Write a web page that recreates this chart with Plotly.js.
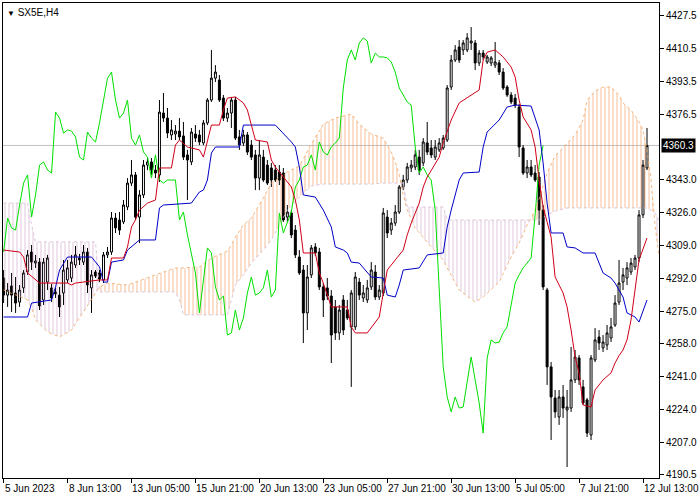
<!DOCTYPE html>
<html>
<head>
<meta charset="utf-8">
<script src="https://cdn.plot.ly/plotly-3.0.1.min.js"></script>
<style>html,body{margin:0;padding:0;background:#fff;}#chart{width:700px;height:500px;}</style>
</head>
<body>
<div id="chart"></div>
<script>
// ---- OHLC data (SX5E, H4), bar index 0..161 ----
const opens = [4292.0,4283.2,4287.9,4284.3,4279.6,4286.9,4295.1,4305.4,4299.7,4300.2,4280.7,4289.9,4286.9,4284.8,4283.2,4284.3,4291.0,4292.0,4298.7,4302.3,4300.2,4305.4,4286.9,4295.1,4294.6,4291.0,4303.9,4305.4,4322.9,4321.9,4320.9,4328.6,4340.9,4345.1,4323.4,4334.8,4350.2,4351.8,4347.6,4345.1,4377.0,4374.4,4365.7,4366.2,4367.7,4365.2,4355.4,4351.8,4366.2,4365.7,4361.6,4371.9,4383.7,4395.0,4394.0,4384.7,4374.4,4377.0,4383.7,4364.7,4361.6,4365.7,4360.5,4355.4,4343.5,4354.3,4350.2,4348.7,4347.6,4346.6,4346.1,4323.4,4325.5,4316.7,4302.8,4296.1,4274.0,4293.6,4308.0,4305.4,4287.4,4286.9,4282.7,4277.1,4263.7,4280.7,4275.5,4266.8,4266.8,4289.9,4281.7,4280.7,4287.4,4295.1,4282.2,4284.3,4323.4,4316.7,4320.3,4326.0,4338.9,4342.5,4348.7,4349.2,4354.3,4351.3,4361.6,4359.0,4354.3,4358.0,4359.0,4363.1,4390.4,4404.3,4411.0,4409.5,4409.5,4413.1,4413.1,4402.8,4407.9,4403.3,4402.8,4401.7,4402.8,4398.1,4390.4,4386.3,4384.7,4380.1,4359.0,4346.1,4349.2,4346.1,4344.0,4327.0,4285.8,4246.2,4230.2,4220.4,4230.7,4224.0,4225.0,4239.5,4250.8,4235.9,4229.2,4211.1,4249.8,4261.6,4256.0,4257.5,4261.1,4267.8,4279.6,4289.9,4292.0,4295.1,4297.7,4302.3,4324.5,4348.7];
const highs = [4296.1,4289.4,4294.6,4292.5,4288.4,4296.1,4306.4,4309.0,4303.9,4302.3,4302.3,4303.9,4288.9,4286.9,4287.4,4301.3,4301.3,4303.9,4308.5,4304.4,4309.0,4307.5,4296.1,4296.1,4296.1,4305.4,4308.0,4326.0,4325.5,4326.0,4332.2,4343.5,4352.8,4346.6,4337.3,4352.8,4353.8,4353.8,4350.2,4383.7,4387.3,4379.6,4373.4,4370.8,4374.4,4372.4,4358.0,4369.3,4370.8,4368.3,4373.4,4384.7,4409.5,4401.7,4396.6,4386.3,4379.6,4385.3,4385.3,4368.3,4368.3,4367.2,4363.1,4358.0,4363.1,4358.0,4352.8,4351.3,4350.2,4350.2,4348.7,4329.6,4327.0,4319.3,4306.4,4298.7,4298.7,4309.0,4310.0,4307.5,4289.4,4292.0,4285.8,4280.7,4278.1,4283.2,4280.7,4285.8,4295.1,4292.0,4288.4,4291.0,4300.2,4298.7,4288.4,4328.1,4327.0,4322.9,4329.6,4339.9,4345.1,4351.3,4352.8,4358.0,4358.0,4364.1,4372.4,4363.1,4363.1,4364.1,4365.7,4391.4,4406.9,4412.0,4414.6,4414.6,4418.2,4421.3,4414.6,4409.5,4409.5,4406.9,4406.4,4413.6,4404.3,4400.2,4391.4,4387.8,4386.8,4381.6,4360.5,4352.8,4352.8,4350.2,4346.6,4329.6,4286.9,4248.7,4234.3,4234.3,4236.9,4234.3,4256.5,4254.9,4252.3,4239.5,4230.2,4252.3,4266.2,4265.2,4262.6,4267.8,4271.4,4283.2,4301.3,4297.2,4300.2,4302.3,4303.9,4327.0,4352.8,4369.3];
const lows = [4279.1,4277.1,4274.5,4274.0,4277.1,4284.3,4293.6,4296.1,4297.2,4275.5,4278.1,4285.8,4279.6,4281.7,4271.9,4278.1,4289.4,4289.9,4297.2,4298.7,4298.7,4284.3,4274.0,4292.0,4289.9,4289.4,4302.3,4303.9,4315.2,4314.2,4319.8,4327.0,4339.4,4321.9,4310.0,4333.2,4347.6,4345.1,4343.5,4341.5,4372.4,4364.1,4363.1,4363.1,4363.1,4352.8,4332.2,4350.2,4362.1,4360.5,4360.5,4370.8,4382.7,4393.0,4382.7,4372.9,4372.4,4369.3,4363.1,4358.0,4360.0,4355.4,4352.8,4337.3,4337.3,4341.5,4339.9,4338.9,4341.5,4339.9,4320.9,4320.9,4312.6,4302.3,4293.6,4258.5,4265.2,4292.0,4303.3,4285.8,4271.9,4280.7,4248.2,4260.1,4260.1,4262.6,4270.4,4235.9,4265.2,4280.7,4279.6,4279.1,4285.8,4280.7,4280.7,4282.7,4312.6,4314.2,4318.8,4325.0,4337.3,4340.9,4346.6,4347.6,4345.1,4349.7,4355.4,4353.8,4352.8,4356.9,4358.0,4362.1,4388.9,4403.3,4402.8,4406.9,4408.4,4409.5,4399.2,4401.2,4404.3,4402.3,4401.2,4400.2,4396.6,4388.9,4385.3,4381.6,4379.6,4354.3,4345.1,4343.5,4344.0,4341.5,4319.3,4285.8,4236.9,4208.5,4219.9,4216.3,4219.9,4194.6,4223.0,4237.9,4236.9,4226.6,4210.1,4208.5,4248.7,4254.9,4253.9,4254.9,4259.0,4266.8,4278.1,4285.8,4288.4,4293.6,4296.1,4300.2,4322.9,4347.6];
const closes = [4283.2,4285.8,4283.2,4279.1,4285.8,4294.6,4303.9,4300.2,4300.8,4277.6,4300.2,4302.3,4281.7,4283.8,4277.1,4296.1,4297.2,4300.2,4303.9,4301.3,4305.4,4288.4,4293.6,4293.0,4291.5,4303.9,4305.4,4322.9,4317.8,4316.7,4329.6,4340.9,4345.1,4323.4,4334.8,4350.2,4351.8,4347.6,4346.1,4377.5,4374.4,4366.7,4368.3,4367.7,4364.7,4354.3,4352.8,4367.2,4364.1,4362.1,4371.9,4383.7,4395.0,4398.1,4383.7,4374.4,4377.0,4383.7,4364.1,4360.5,4365.7,4356.9,4354.3,4343.5,4355.4,4342.5,4340.9,4342.5,4342.5,4342.5,4321.9,4326.0,4314.2,4303.9,4294.6,4274.0,4292.5,4307.5,4304.9,4287.4,4280.7,4282.7,4262.6,4263.7,4275.5,4265.2,4271.4,4284.3,4292.5,4283.2,4284.3,4286.9,4296.1,4282.2,4285.8,4325.5,4315.2,4320.3,4326.0,4338.9,4342.5,4349.2,4350.2,4355.4,4347.6,4362.1,4356.9,4355.4,4359.5,4361.6,4364.1,4389.9,4404.3,4409.5,4404.3,4413.1,4415.7,4414.1,4402.8,4407.9,4405.9,4405.9,4405.4,4403.3,4398.1,4389.9,4386.3,4382.7,4381.1,4359.5,4346.1,4349.2,4345.1,4342.5,4327.0,4287.4,4246.2,4230.7,4223.0,4230.7,4225.0,4225.5,4239.5,4251.3,4239.5,4227.6,4212.1,4250.8,4260.1,4258.5,4259.0,4263.7,4266.8,4279.1,4289.4,4293.6,4297.2,4299.7,4302.3,4324.5,4350.2,4360.3];

// ---- Ichimoku lines (bar index, price) ----
const tenkanBars = [0,4,5,6,9,16,17,18,24,26,27,30,31,32,33,34,36,38,39,42,43,44,46,49,50,51,52,54,55,56,58,60,61,62,63,66,67,68,70,72,73,74,75,78,79,80,82,86,87,88,91,94,95,96,98,100,101,102,104,105,106,108,109,110,112,114,117,119,120,121,123,125,127,128,129,130,132,133,134,135,137,138,140,141,142,143,144,145,147,148,150,152,153,154,155,156,157,158,159,161];
const tenkanVals = [4306.4,4305.4,4302.8,4294.6,4289.4,4289.4,4288.4,4289.4,4291.0,4291.0,4302.3,4302.3,4308.0,4318.3,4321.9,4327.0,4330.6,4332.2,4348.7,4348.7,4360.5,4363.1,4359.5,4358.0,4354.3,4363.1,4370.8,4370.8,4378.6,4384.7,4385.3,4382.2,4378.6,4370.8,4363.1,4362.1,4352.8,4349.2,4344.0,4338.9,4332.2,4321.9,4304.9,4304.9,4294.6,4289.4,4277.1,4277.1,4266.8,4263.7,4263.7,4271.9,4284.3,4296.1,4301.3,4306.4,4314.2,4320.3,4330.6,4338.9,4344.0,4351.3,4354.3,4361.6,4373.4,4382.2,4386.3,4388.9,4404.3,4408.4,4409.5,4405.9,4400.7,4395.6,4383.7,4375.0,4368.3,4359.5,4342.5,4328.6,4313.1,4292.5,4284.3,4277.1,4265.2,4251.3,4243.1,4226.6,4225.5,4234.3,4239.5,4243.1,4248.2,4252.0,4254.9,4260.1,4270.4,4287.4,4301.3,4312.6];

const kijunBars = [0,6,7,9,12,13,14,16,22,24,25,26,27,30,31,34,38,39,40,47,49,50,51,52,53,59,60,68,70,72,73,74,75,78,80,82,83,85,86,87,89,91,92,95,96,98,99,100,104,106,110,111,112,114,115,119,120,121,124,126,128,132,134,135,136,137,140,141,143,145,148,150,152,153,155,156,158,159,160,161];
const kijunVals = [4271.9,4271.9,4279.1,4279.6,4280.7,4287.4,4296.1,4302.8,4302.8,4297.7,4289.9,4289.9,4300.2,4301.3,4306.4,4311.6,4311.6,4328.1,4329.6,4330.6,4336.3,4337.3,4342.5,4356.4,4359.5,4359.5,4370.8,4370.8,4366.7,4362.1,4359.5,4349.2,4334.8,4333.7,4327.0,4318.3,4308.0,4306.4,4304.9,4300.2,4299.7,4294.6,4292.5,4292.0,4283.2,4282.2,4288.4,4296.1,4297.2,4303.9,4304.9,4318.3,4327.0,4342.5,4346.1,4346.6,4359.5,4367.2,4373.4,4380.1,4381.1,4380.6,4368.3,4351.3,4330.6,4315.2,4315.2,4308.0,4307.5,4304.9,4304.9,4294.6,4292.0,4289.4,4282.2,4274.0,4271.9,4269.3,4275.5,4280.7];

const cloudBars = [0,6,7,8,11,14,17,19,22,23,24,26,31,38,43,44,45,49,52,56,57,58,60,62,65,67,71,74,77,80,83,87,89,92,95,97,98,99,100,101,103,107,110,111,114,118,120,124,127,129,131,132,133,134,136,138,141,143,145,146,148,150,152,154,155,157,159,160,161,162,163,164];
const senkouA = [4285.8,4280.7,4276.5,4270.4,4264.2,4261.6,4265.2,4271.4,4280.7,4283.8,4287.4,4289.4,4288.4,4293.6,4297.2,4297.2,4297.2,4297.7,4302.3,4305.9,4309.0,4313.1,4319.3,4322.9,4333.2,4340.9,4346.6,4349.7,4361.0,4371.3,4374.4,4376.5,4371.3,4366.2,4364.1,4356.9,4351.8,4345.1,4334.8,4327.0,4317.8,4308.0,4301.3,4297.2,4285.8,4279.6,4282.2,4289.9,4302.8,4310.0,4319.3,4322.9,4327.0,4332.7,4346.1,4354.9,4361.6,4365.7,4373.4,4383.7,4388.3,4390.4,4390.4,4386.3,4382.2,4378.6,4372.4,4368.3,4358.0,4342.5,4319.3,4302.8];
const senkouB = [4330.6,4330.6,4319.3,4310.6,4310.6,4310.6,4310.6,4310.6,4310.6,4310.6,4284.8,4284.8,4284.8,4284.8,4284.8,4280.7,4273.0,4273.0,4273.0,4273.0,4280.7,4288.4,4293.6,4299.7,4306.4,4311.6,4327.0,4333.7,4339.4,4340.4,4340.4,4340.4,4340.4,4340.4,4340.9,4340.9,4340.9,4340.9,4340.9,4328.6,4328.6,4328.6,4328.6,4321.9,4321.9,4321.9,4321.9,4321.9,4321.9,4321.9,4321.9,4321.9,4321.9,4321.9,4324.5,4326.5,4328.1,4328.1,4328.1,4328.1,4328.1,4328.1,4328.1,4328.1,4328.1,4328.1,4328.1,4328.1,4328.1,4327.0,4325.5,4321.9];

const chikouShift = 26;
const lastPrice = 4360.3;
const yTickVals = [4427.5,4410.5,4393.5,4376.5,4343.0,4326.0,4309.0,4292.0,4275.0,4258.0,4241.0,4224.0,4207.0,4190.5];
const xLabelBars = [0,16,32,48,64,80,96,112,128,144,160];
const xLabels = ['5 Jun 2023','8 Jun 13:00','13 Jun 05:00','15 Jun 21:00','20 Jun 13:00','23 Jun 05:00','27 Jun 21:00','30 Jun 13:00','5 Jul 05:00','7 Jul 21:00','12 Jul 13:00'];

// ---- build ----
const barIdx = closes.map((_, i) => i);
const traces = [];

function buildClouds() {
  const polys = [];
  let cur = null;
  for (let k = 0; k < cloudBars.length; k++) {
    const d = senkouA[k] - senkouB[k];
    const bull = d >= 0;
    if (!cur) { cur = {bull, xs: [cloudBars[k]], a: [senkouA[k]], b: [senkouB[k]]}; continue; }
    if (bull !== cur.bull) {
      const d0 = senkouA[k-1] - senkouB[k-1];
      const t = d0 / (d0 - d);
      const xc = cloudBars[k-1] + t * (cloudBars[k] - cloudBars[k-1]);
      const yc = senkouA[k-1] + t * (senkouA[k] - senkouA[k-1]);
      cur.xs.push(xc); cur.a.push(yc); cur.b.push(yc);
      polys.push(cur);
      cur = {bull, xs: [xc], a: [yc], b: [yc]};
    }
    cur.xs.push(cloudBars[k]); cur.a.push(senkouA[k]); cur.b.push(senkouB[k]);
  }
  polys.push(cur);
  return polys;
}
buildClouds().forEach(p => {
  const col = p.bull ? 'rgb(240,160,96)' : 'rgb(205,170,200)';
  traces.push({
    type: 'scatter', mode: 'none', hoverinfo: 'skip', showlegend: false,
    x: p.xs.concat(p.xs.slice().reverse()),
    y: p.a.concat(p.b.slice().reverse()),
    fill: 'toself', fillcolor: 'rgba(0,0,0,0)',
    fillpattern: {shape: '|', size: 4, solidity: 0.25, fgcolor: col, fgopacity: 0.65}
  });
});
traces.push({type:'scatter', mode:'lines', x: cloudBars, y: senkouA, hoverinfo:'skip', showlegend:false,
  line:{color:'rgba(244,164,96,0.8)', width:1, dash:'dot'}});
traces.push({type:'scatter', mode:'lines', x: cloudBars, y: senkouB, hoverinfo:'skip', showlegend:false,
  line:{color:'rgba(216,191,216,0.9)', width:1, dash:'dot'}});

traces.push({
  type: 'candlestick', x: barIdx, open: opens, high: highs, low: lows, close: closes,
  increasing: {line: {color: '#000', width: 1}, fillcolor: '#fff'},
  decreasing: {line: {color: '#000', width: 1}, fillcolor: '#000'},
  whiskerwidth: 0, hoverinfo: 'skip', showlegend: false
});

traces.push({type:'scatter', mode:'lines', x: barIdx.slice(0, closes.length - chikouShift),
  y: closes.slice(chikouShift), hoverinfo:'skip', showlegend:false,
  line:{color:'#00e000', width:1}});
traces.push({type:'scatter', mode:'lines', x: kijunBars, y: kijunVals, hoverinfo:'skip', showlegend:false,
  line:{color:'#0000c8', width:1}});
traces.push({type:'scatter', mode:'lines', x: tenkanBars, y: tenkanVals, hoverinfo:'skip', showlegend:false,
  line:{color:'#d00018', width:1}});

const font = {family: 'Liberation Sans Narrow, Liberation Sans, Arial, sans-serif', size: 10, color: '#000'};
const annotations = xLabels.map((t, i) => ({
  x: xLabelBars[i], xref: 'x', y: 0, yref: 'paper', yanchor: 'top', xanchor: 'left',
  yshift: -3, xshift: -1, text: t, showarrow: false, font: font
}));
annotations.push({
  x: 1, xref: 'paper', y: lastPrice, yref: 'y', xanchor: 'left', yanchor: 'middle', xshift: 2,
  text: lastPrice.toFixed(1), showarrow: false, bgcolor: '#000', borderpad: 1,
  font: {family: font.family, size: 10, color: '#fff'}
});
annotations.push({
  x: 0, xref: 'paper', y: 1, yref: 'paper', xanchor: 'left', yanchor: 'top', xshift: 2, yshift: -2,
  text: '<span style="font-size:8px">▼</span> SX5E,H4', showarrow: false, font: font
});

const layout = {
  width: 700, height: 500,
  margin: {l: 3, r: 41, t: 3, b: 22},
  paper_bgcolor: '#fff', plot_bgcolor: '#fff',
  showlegend: false,
  xaxis: {
    type: 'linear', range: [-0.15, 164], showgrid: false, zeroline: false,
    rangeslider: {visible: false}, showline: true, linecolor: '#000', linewidth: 1, mirror: true,
    ticks: 'outside', ticklen: 4, tickcolor: '#000', tickvals: xLabelBars, showticklabels: false
  },
  yaxis: {
    side: 'right', range: [4188.95, 4433.7], showgrid: false, zeroline: false,
    showline: true, linecolor: '#000', linewidth: 1, mirror: true,
    ticks: 'outside', ticklen: 4, tickcolor: '#000',
    tickvals: yTickVals, ticktext: yTickVals.map(v => v.toFixed(1)), tickfont: font
  },
  shapes: [{type: 'line', xref: 'paper', x0: 0, x1: 1, yref: 'y', y0: lastPrice, y1: lastPrice,
    line: {color: '#c0c0c0', width: 1}, layer: 'below'}],
  annotations: annotations
};

Plotly.newPlot('chart', traces, layout, {staticPlot: true, displayModeBar: false});
</script>
</body>
</html>
